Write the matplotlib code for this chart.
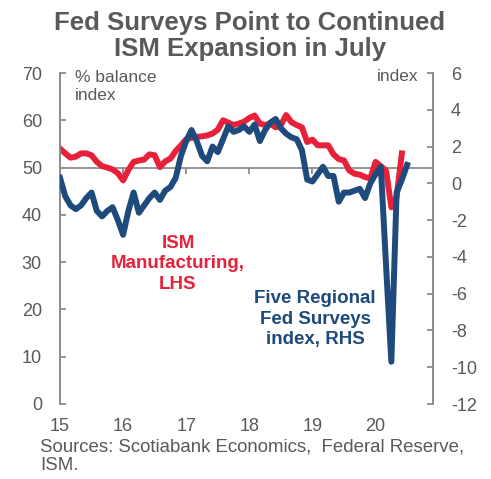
import numpy as np
import matplotlib
matplotlib.use('Agg')
import matplotlib.pyplot as plt
from matplotlib import markers

plt.rcParams['font.family'] = ['Liberation Sans', 'DejaVu Sans']
plt.rcParams['axes.unicode_minus'] = False

# monthly data, Jan 2015 onwards
ism = [54.0, 53.0, 52.1, 52.3, 53.0, 53.0, 52.6, 51.2, 50.3, 50.0, 49.6, 48.8,
       47.3, 49.5, 51.2, 51.5, 51.7, 52.8, 52.6, 50.1, 51.3, 51.9, 53.5, 54.7,
       56.0, 56.3, 56.5, 56.6, 56.8, 57.2, 58.0, 60.0, 59.5, 59.0, 59.3, 59.7,
       60.5, 61.0, 59.3, 59.0, 59.3, 58.5, 59.0, 61.1, 59.6, 59.0, 58.5, 55.4,
       55.9, 54.7, 54.7, 54.7, 52.8, 51.8, 51.5, 49.4, 48.7, 48.5, 48.0, 47.7,
       51.2, 50.3, 49.3, 41.6, 43.8, 53.0]
fed = [0.3, -0.7, -1.2, -1.4, -1.2, -0.8, -0.5, -1.5, -1.8, -1.5, -1.3, -2.0,
       -2.8, -1.5, -0.5, -1.6, -1.2, -0.8, -0.5, -0.9, -0.4, -0.2, 0.3, 1.5,
       2.3, 2.9, 2.3, 1.5, 1.2, 2.0, 1.7, 2.4, 3.1, 2.8, 2.9, 3.1,
       2.8, 3.2, 2.3, 2.9, 3.3, 3.5, 3.0, 2.7, 2.5, 2.4, 1.8, 0.2,
       0.1, 0.5, 0.9, 0.4, 0.4, -1.0, -0.5, -0.5, -0.4, -0.3, -0.8, 0.0,
       0.5, 0.9, -4.5, -9.7, -0.5, 0.2, 1.0]
year_ticks = [15, 16, 17, 18, 19, 20]

x_ism = 15 + np.arange(len(ism)) / 12
x_fed = 15 + np.arange(len(fed)) / 12

red = '#e8213a'
navy = '#1f4a7c'
grey = '#595959'
axc = '#8c8c8c'

W, H = 491, 479
fig = plt.figure(figsize=(W / 100, H / 100), dpi=100)
ax = fig.add_axes([60 / W, 1 - 404 / H, 373 / W, 331 / H])
ax2 = ax.twinx()

ax.axhline(50, color=axc, lw=1.3, zorder=1)
ax.plot(year_ticks[1:], [50] * 5, ls='none', marker=markers.TICKDOWN,
        ms=4, mew=1.3, color=axc, zorder=1)
ax.plot(x_ism, ism, color=red, lw=4.3, solid_joinstyle='round', zorder=3)
ax2.plot(x_fed, fed, color=navy, lw=4.3, solid_joinstyle='round', zorder=3)

ax.set_xlim(15, 20.91)
ax.set_ylim(0, 70)
ax2.set_ylim(-12, 6)
ax.set_yticks(range(0, 71, 10))
ax2.set_yticks(range(-12, 7, 2))
ax.set_xticks(year_ticks)

for a in (ax, ax2):
    for s in ('top', 'bottom'):
        a.spines[s].set_visible(False)
    for s in ('left', 'right'):
        a.spines[s].set_color(axc)
        a.spines[s].set_linewidth(1.3)
    a.tick_params(axis='y', direction='in', length=4, width=1.3, color=axc,
                  labelsize=13, labelcolor=grey, pad=13)
ax.tick_params(axis='x', length=0, labelsize=13, labelcolor=grey, pad=10)
ax.tick_params(axis='y', labelright=False, right=False)
ax2.tick_params(axis='y', labelleft=False, left=False)

def px(x, y):
    return x / W, 1 - y / H

fig.text(*px(250, 36), 'Fed Surveys Point to Continued\nISM Expansion in July',
         ha='center', va='center', fontsize=18.5, fontweight='bold', color=grey,
         linespacing=1.1)
fig.text(*px(75, 87), '% balance\nindex', ha='left', va='center', fontsize=12.5,
         color=grey, linespacing=1.25)
fig.text(*px(418, 76), 'index', ha='right', va='center', fontsize=12.5, color=grey)
fig.text(*px(178, 264), 'ISM\nManufacturing,\nLHS', ha='center', va='center',
         fontsize=13.5, fontweight='bold', color=red, linespacing=1.3)
fig.text(*px(315, 319), 'Five Regional\nFed Surveys\nindex, RHS', ha='center',
         va='center', fontsize=13.5, fontweight='bold', color=navy, linespacing=1.3)
fig.text(*px(40, 456), 'Sources: Scotiabank Economics,  Federal Reserve,\nISM.',
         ha='left', va='center', fontsize=13.4, color=grey, linespacing=1.15)

fig.savefig('out.png', dpi=100)
